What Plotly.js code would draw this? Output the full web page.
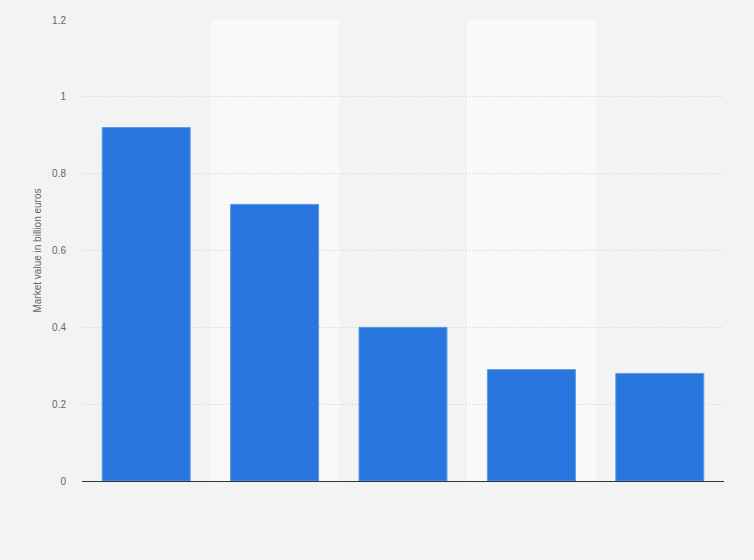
<!DOCTYPE html>
<html>
<head>
<meta charset="utf-8">
<script src="https://cdn.plot.ly/plotly-3.0.1.min.js"></script>
<style>
  html, body { margin: 0; padding: 0; background: #f3f3f3; }
  #chart { width: 754px; height: 560px; }
</style>
</head>
<body>
<div id="chart"></div>
<script>
const categories = ['A', 'B', 'C', 'D', 'E']
const marketValue = [0.92, 0.72, 0.40, 0.29, 0.28]
const yTicks = [0, 0.2, 0.4, 0.6, 0.8, 1, 1.2]

// lighter bands behind every second column
const bands = categories
  .map((c, i) => i)
  .filter(i => i % 2 === 1)
  .map(i => ({
    type: 'rect', xref: 'x', yref: 'paper', layer: 'below',
    x0: i - 0.5, x1: i + 0.5, y0: 0, y1: 1,
    fillcolor: '#f9f9f9', line: { width: 0 }
  }))

const data = [{
  type: 'bar',
  x: categories,
  y: marketValue,
  width: 0.685,
  marker: { color: '#2876dd', line: { color: '#5b9be8', width: 1 } },
  hoverinfo: 'y'
}]

const layout = {
  width: 754,
  height: 560,
  margin: { l: 82, r: 30, t: 20, b: 79 },
  paper_bgcolor: '#f3f3f3',
  plot_bgcolor: '#f3f3f3',
  font: { family: 'Arial, Liberation Sans, sans-serif', color: '#666', size: 10 },
  showlegend: false,
  shapes: bands,
  xaxis: {
    type: 'category',
    showticklabels: false,
    ticks: '',
    showgrid: false,
    zeroline: false,
    showline: true,
    linecolor: '#333',
    linewidth: 1,
    range: [-0.5, categories.length - 0.5]
  },
  yaxis: {
    range: [0, 1.2],
    tickvals: yTicks,
    ticktext: yTicks.map(String),
    ticks: '',
    ticklabelstandoff: 15,
    showgrid: true,
    gridcolor: '#cfcfcf',
    griddash: '1px,2px',
    gridwidth: 1,
    zeroline: false,
    showline: false,
    title: { text: 'Market value in billion euros', font: { size: 10, color: '#666' }, standoff: 8 }
  }
}

Plotly.newPlot('chart', data, layout, { displayModeBar: false, staticPlot: true })
</script>
</body>
</html>
